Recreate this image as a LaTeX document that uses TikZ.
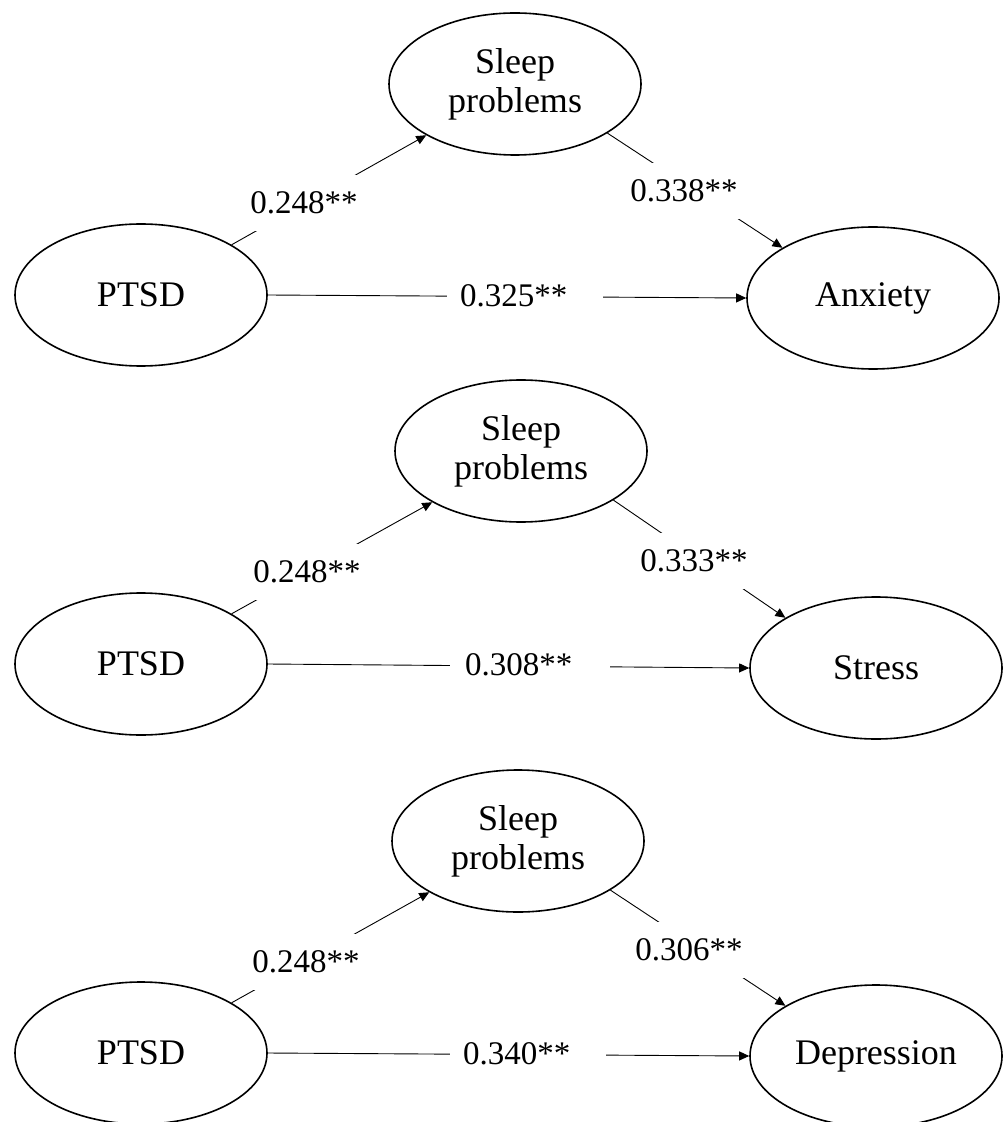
\documentclass[tikz,border=0pt]{standalone}
\usepackage{fontspec}
\setmainfont{Liberation Serif}
\usetikzlibrary{shapes.geometric,arrows.meta}

\newcommand{\varfont}{\fontsize{18}{19.5}\selectfont}
\newcommand{\coeffont}{\fontsize{16.5}{18}\selectfont}

\begin{document}
\begin{tikzpicture}[x=0.5pt,y=-0.5pt,
  var/.style={ellipse,draw,line width=0.8pt,minimum width=126pt,minimum height=71pt,
              inner sep=0pt,align=center,font=\varfont},
  coef/.style={fill=white,inner xsep=2.5pt,inner ysep=0pt,minimum height=28pt,font=\coeffont},
  direct/.style={fill=white,inner sep=0pt,minimum height=18pt,font=\coeffont},
  link/.style={line width=0.45pt,-{Triangle[length=5pt,width=4.5pt]}}
]
\useasboundingbox (0,0) rectangle (1004,1122);

% ---------- model 1: anxiety ----------
\node[var] (sleepA) at (515,84)  {Sleep\\problems};
\node[var] (ptsdA)  at (141,295) {PTSD};
\node[var] (anx)    at (873,298) {Anxiety};
\draw[link] (ptsdA.29.5) -- (sleepA.210);
\draw[link] (sleepA.-28) -- (anx.151.5);
\draw[link] (ptsdA.east) -- (anx.west);
\node[coef]   (aA) at (304,203) {0.248**};
\node[coef]   (bA) at (684,191) {0.338**};
\node[direct] (cA) at (525,296) {\makebox[78pt][l]{\hspace{6.5pt}0.325**}};

% ---------- model 2: stress ----------
\node[var] (sleepB) at (521,451)  {Sleep\\problems};
\node[var] (ptsdB)  at (141,664)  {PTSD};
\node[var] (stress) at (876,668)  {Stress};
\draw[link] (ptsdB.29.5) -- (sleepB.210);
\draw[link] (sleepB.-28) -- (stress.151.5);
\draw[link] (ptsdB.east) -- (stress.west);
\node[coef]   (aB) at (307,572) {0.248**};
\node[coef]   (bB) at (694,561) {0.333**};
\node[direct] (cB) at (530,665) {\makebox[80pt][l]{\hspace{7.5pt}0.308**}};

% ---------- model 3: depression ----------
\node[var] (sleepC) at (518,841)  {Sleep\\problems};
\node[var] (ptsdC)  at (141,1053) {PTSD};
\node[var] (dep)    at (876,1056) {Depression};
\draw[link] (ptsdC.29.5) -- (sleepC.210);
\draw[link] (sleepC.-28) -- (dep.151.5);
\draw[link] (ptsdC.east) -- (dep.west);
\node[coef]   (aC) at (306,962)  {0.248**};
\node[coef]   (bC) at (689,950)  {0.306**};
\node[direct] (cC) at (528,1054) {\makebox[78pt][l]{\hspace{6.5pt}0.340**}};
\end{tikzpicture}
\end{document}
